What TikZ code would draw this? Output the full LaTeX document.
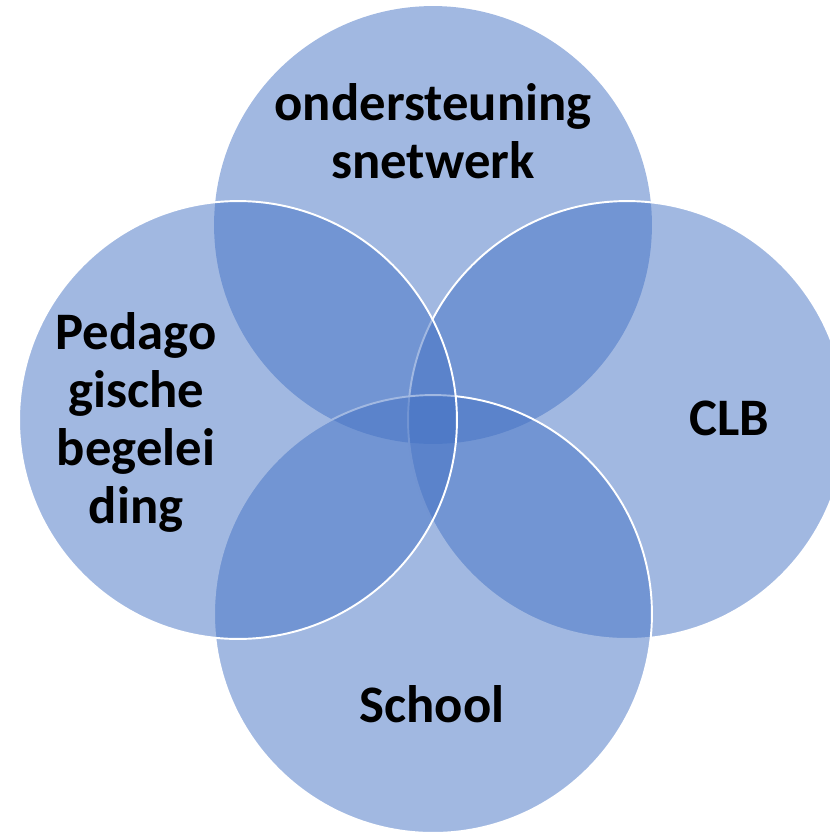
\documentclass[tikz,border=0pt]{standalone}
\usepackage{fontspec}
\setmainfont{Carlito}
\usetikzlibrary{positioning}
\definecolor{vennblue}{HTML}{4472C4}

\begin{document}
\begin{tikzpicture}[x=0.02cm, y=-0.02cm,
    ring/.style={circle, minimum size=8.76cm, inner sep=0pt, fill=vennblue,
        fill opacity=0.5, draw=white, line width=1.1pt},
    lbl/.style={font=\bfseries\fontsize{30}{33}\selectfont, align=center, anchor=base}]
    \useasboundingbox (0,0) rectangle (830,833);

    \node[ring, draw=none] (ON) at (433,225) {};
    \node[ring] (CLB) at (627,420) {};
    \node[ring] (SC) at (433,614) {};
    \node[ring] (PB) at (238,420) {};

    \node[lbl] (ONt) at (433,178) {ondersteuning\\snetwerk};
    \node[lbl] (PBt) at (136,523) {Pedago\\gische\\begelei\\ding};
    \node[lbl] (CLBt) at (729,435) {CLB};
    \node[lbl] (SCt) at (432,722) {School};
\end{tikzpicture}
\end{document}
